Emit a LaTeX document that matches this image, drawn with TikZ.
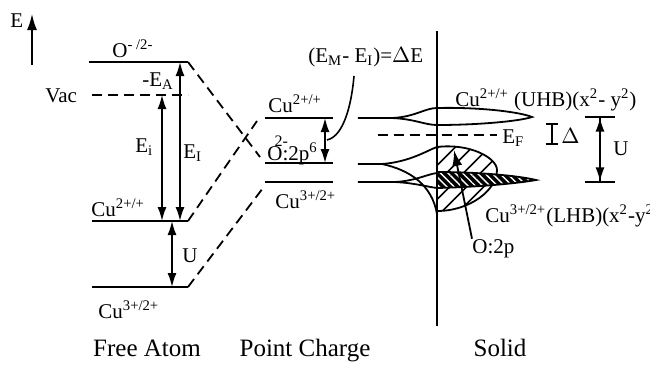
\documentclass[tikz,border=0pt]{standalone}
\usepackage{fontspec}
\setmainfont{Liberation Serif}
\usetikzlibrary{arrows.meta,patterns.meta}

\begin{document}
\begin{tikzpicture}[x=0.5pt,y=-0.5pt,
    level/.style={line width=1pt},
    dashlevel/.style={line width=0.9pt, dash pattern=on 5pt off 3pt},
    band/.style={line width=0.9pt},
    dbl/.style={line width=0.8pt, {Latex[length=7pt,width=4.5pt]}-{Latex[length=7pt,width=4.5pt]}},
    lbl/.style={inner sep=0pt, anchor=base west, font=\fontsize{10.5}{12}\selectfont},
    title/.style={inner sep=0pt, anchor=base, font=\fontsize{12.5}{14}\selectfont}
]
\useasboundingbox (0,0) rectangle (650,365);

% energy axis
\coordinate (ebot) at (32,65);
\coordinate (etop) at (32,14);
\draw[line width=0.9pt, -{Latex[length=8pt,width=5pt]}] (ebot) -- (etop);
\node[lbl] (elab) at (10,27) {E};

% free atom levels
\coordinate (fO1) at (89,62);  \coordinate (fO2) at (188,62);
\coordinate (fV1) at (92,95);  \coordinate (fV2) at (188,95);
\coordinate (fC1) at (92,221); \coordinate (fC2) at (188,221);
\coordinate (fD1) at (92,287); \coordinate (fD2) at (188,287);
\draw[level] (fO1) -- (fO2);
\draw[dashlevel] (fV1) -- (fV2);
\draw[level] (fC1) -- (fC2);
\draw[level] (fD1) -- (fD2);

\node[lbl] (olab) at (112,57) {O\textsuperscript{- /2-}};
\node[lbl] (vaclab) at (45,102) {Vac};
\node[lbl] (ealab) at (142,86) {-E\textsubscript{A}};
\node[lbl] (fclab) at (91,216) {Cu\textsuperscript{2+/+}};
\node[lbl] (fdlab) at (98,318) {Cu\textsuperscript{3+/2+}};

\coordinate (xEi) at (162,0);
\coordinate (xEI) at (180,0);
\coordinate (xU) at (172,0);
\draw[dbl] (fV1 -| xEi) -- (fC1 -| xEi);
\draw[dbl] (fO1 -| xEI) -- (fC1 -| xEI);
\draw[dbl] (fC1 -| xU) -- (fD1 -| xU);
\node[lbl] (eilab) at (135,152) {E\textsubscript{i}};
\node[lbl] (eIlab) at (183,158) {E\textsubscript{I}};
\node[lbl] (ulab) at (182,262) {U};

% point charge levels
\coordinate (pC1) at (265,118); \coordinate (pC2) at (333,118);
\coordinate (pO1) at (265,163); \coordinate (pO2) at (333,163);
\coordinate (pD1) at (265,182); \coordinate (pD2) at (333,182);
\draw[level] (pC1) -- (pC2);
\draw[level] (pO1) -- (pO2);
\draw[level] (pD1) -- (pD2);

\node[lbl] (pclab) at (268,112) {Cu\textsuperscript{2+/+}};
\node[lbl] (polab) at (267,160) {\makebox[0pt][l]{\raisebox{1.35ex}{\fontsize{8}{9}\selectfont\hspace{0.45em}2-}}O:2p\textsuperscript{6}};
\node[lbl] (pdlab) at (275,208) {Cu\textsuperscript{3+/2+}};

% free atom -> point charge
\coordinate (xA) at (260,157);
\coordinate (xB) at (257,121);
\coordinate (xC) at (263,188);
\draw[dashlevel] (fO2) -- (xA);
\draw[dashlevel] (fC2) -- (xB);
\draw[dashlevel] (fD2) -- (xC);

\coordinate (xDE) at (325,0);
\draw[dbl] (pC2 -| xDE) -- (pO2 -| xDE);
\node[lbl] (delab) at (308,62) {(E\textsubscript{M}- E\textsubscript{I})=\(\Delta\)E};
\coordinate (dEmid) at (327,140);
\coordinate (dEend) at (354,76);
\draw[line width=0.8pt] (dEmid) .. controls (345,136) and (352,100) .. (dEend);

% solid: density of states
\coordinate (sTop) at (437,31);
\coordinate (sBot) at (437,326);
\draw[line width=1pt] (sTop) -- (sBot);

% upper Hubbard band
\draw[band] (358,118) -- (392,118) .. controls (415,117) and (425,108) .. (437,108)
    .. controls (480,107) and (520,112) .. (532,117)
    .. controls (520,121) and (480,125) .. (437,125)
    .. controls (425,125) and (415,119) .. (392,118);
\node[lbl] (uhblab) at (455,106) {Cu\textsuperscript{2+/+} (UHB)(x\textsuperscript{2}- y\textsuperscript{2})};

% Fermi level
\coordinate (sF1) at (378,135);
\coordinate (sF2) at (497,135);
\draw[dashlevel] (sF1) -- (sF2);
\node[lbl] (eflab) at (502,143) {E\textsubscript{F}};

% O:2p band
\draw[band] (358,164) -- (382,164) .. controls (410,162) and (428,150) .. (437,147);
\draw[band] (382,164) .. controls (410,170) and (432,185) .. (437,214);
\draw[band, pattern={Lines[angle=45,distance=6pt,line width=0.8pt]}]
    (437,147) .. controls (470,143) and (497,158) .. (497,170)
    .. controls (497,190) and (470,211) .. (437,211) -- cycle;

% lower Hubbard band
\draw[band] (358,182) -- (395,182) .. controls (415,181) and (428,174) .. (437,173);
\draw[band] (395,182) .. controls (415,183) and (428,187) .. (437,188);
\draw[band, preaction={fill=black}, pattern={Lines[angle=-45,distance=2.6pt,line width=0.7pt]}, pattern color=white]
    (437,172) .. controls (480,172) and (520,176) .. (536,180)
    .. controls (520,183) and (480,187) .. (437,188) -- cycle;
\node[lbl] (lhblab) at (485,222) {Cu\textsuperscript{3+/2+}(LHB)(x\textsuperscript{2}-y\textsuperscript{2})};

\node[lbl] (o2plab) at (472,253) {O:2p};
\coordinate (o2ptip) at (454,150);
\draw[line width=0.9pt, -{Latex[length=8pt,width=5pt]}] (o2plab.north west) -- (o2ptip);

% gaps
\coordinate (xD) at (552,0);
\coordinate (gD1) at (552,123);
\coordinate (gD2) at (552,145);
\draw[line width=0.8pt, {Bar[width=6pt]}-{Bar[width=6pt]}] (gD1) -- (gD2);
\node[lbl] (dlab) at (561,143) {\(\Delta\)};
\coordinate (gU1) at (600,116);
\coordinate (gU2) at (600,183);
\draw[line width=0.8pt, {Bar[width=15pt]Latex[length=7pt,width=4.5pt]}-{Latex[length=7pt,width=4.5pt]Bar[width=15pt]}] (gU1) -- (gU2);
\node[lbl] (sulab) at (613,155) {U};

% column titles
\node[title] (tfree) at (147,356) {Free Atom};
\node[title] (tpc) at (305,356) {Point Charge};
\node[title] (tsol) at (500,356) {Solid};

\end{tikzpicture}
\end{document}
